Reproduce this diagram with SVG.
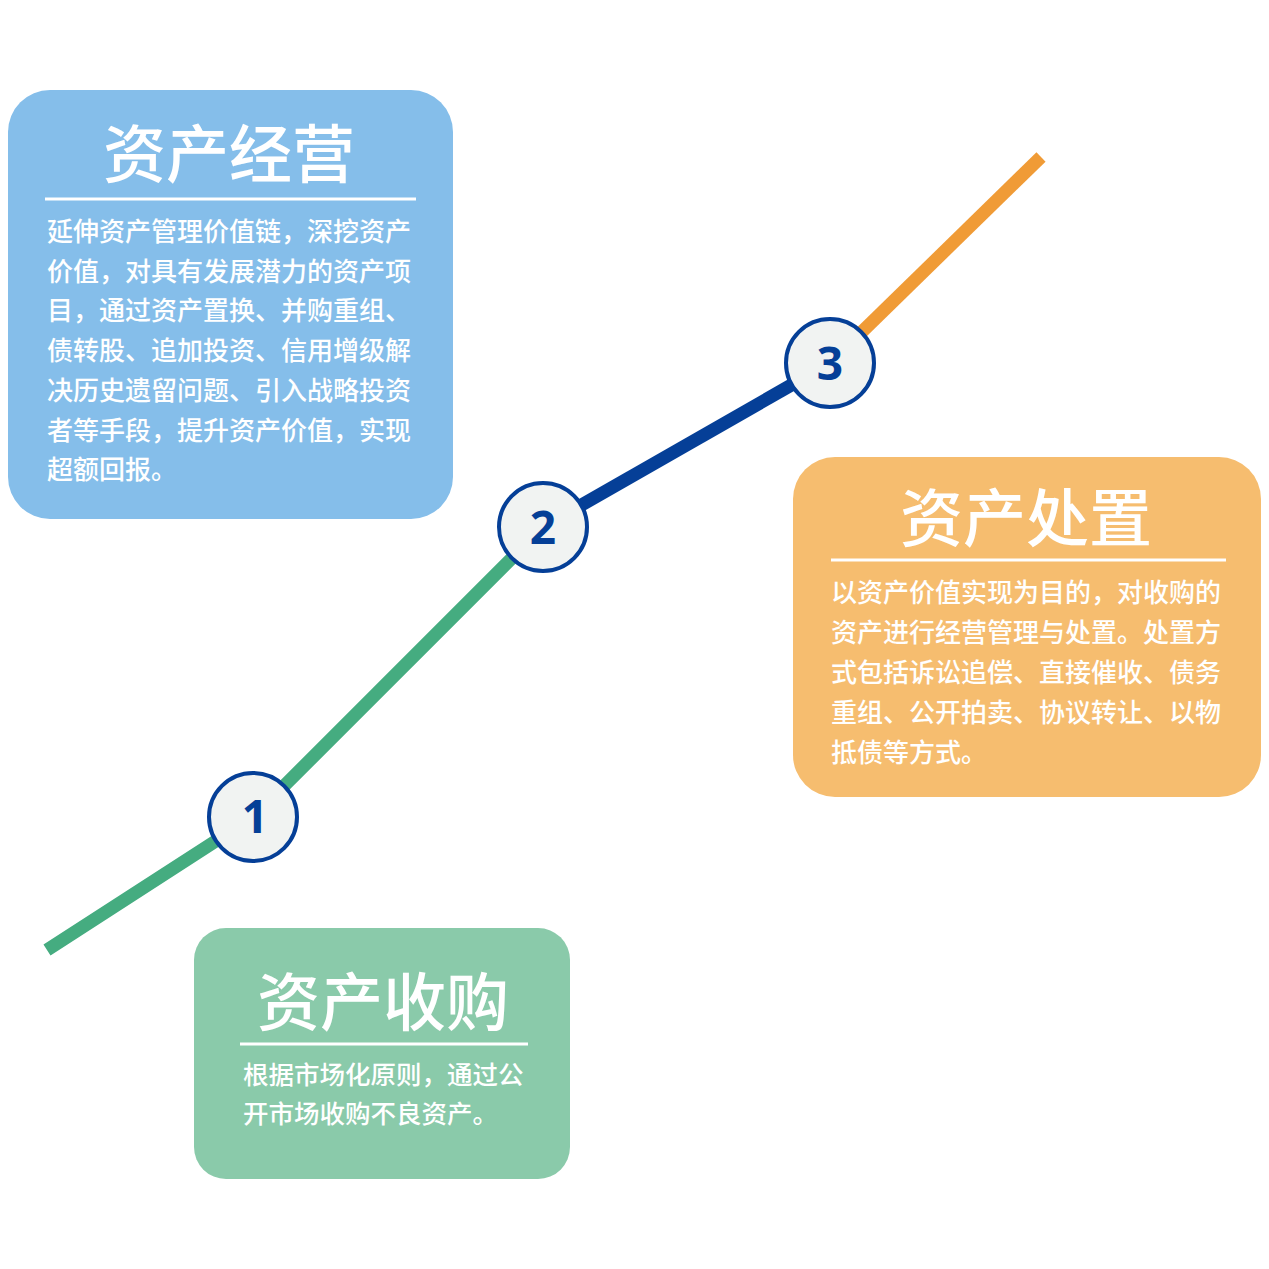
<svg xmlns="http://www.w3.org/2000/svg" width="1269" height="1269" viewBox="0 0 1269 1269">
<style>
.title{font-family:"Noto Sans CJK SC","Noto Sans",sans-serif;font-size:63px;fill:#fff;text-anchor:middle;font-weight:500}
.body{font-family:"Noto Sans CJK SC","Noto Sans",sans-serif;font-size:26px;fill:#fff;font-weight:500}
.rule{stroke:#fff;stroke-width:3}
.seg{fill:none;stroke-width:13;stroke-linecap:butt}
.dot{fill:#F1F3F2;stroke:#053F97;stroke-width:4}
.num{font-family:"Open Sans","Liberation Sans",sans-serif;font-weight:700;font-size:46px;fill:#053F97;text-anchor:middle}
</style>
<rect width="1269" height="1269" fill="#fff"/>
<g id="connectors">
<polyline class="seg" stroke="#45AC80" points="47,950 253,817 543,527"/>
<line class="seg" stroke="#053F97" x1="543" y1="527" x2="830" y2="363"/>
<line class="seg" stroke="#F09B36" x1="830" y1="363" x2="1041" y2="157"/>
</g>
<g id="box-operation">
<rect x="8" y="90" width="445" height="429" rx="42" fill="#85BEEA"/>
<text class="title" x="229" y="177">资产经营</text>
<line class="rule" x1="45" y1="199" x2="416" y2="199"/>
<text class="body">
<tspan x="47" y="241">延伸资产管理价值链，深挖资产</tspan>
<tspan x="47" y="281">价值，对具有发展潜力的资产项</tspan>
<tspan x="47" y="320">目，通过资产置换、并购重组、</tspan>
<tspan x="47" y="360">债转股、追加投资、信用增级解</tspan>
<tspan x="47" y="400">决历史遗留问题、引入战略投资</tspan>
<tspan x="47" y="440">者等手段，提升资产价值，实现</tspan>
<tspan x="47" y="479">超额回报。</tspan>
</text>
</g>
<g id="box-disposal">
<rect x="793" y="457" width="468" height="340" rx="42" fill="#F6BD6F"/>
<text class="title" x="1026" y="541">资产处置</text>
<line class="rule" x1="831" y1="560" x2="1226" y2="560"/>
<text class="body">
<tspan x="831" y="602">以资产价值实现为目的，对收购的</tspan>
<tspan x="831" y="642">资产进行经营管理与处置。处置方</tspan>
<tspan x="831" y="682">式包括诉讼追偿、直接催收、债务</tspan>
<tspan x="831" y="722">重组、公开拍卖、协议转让、以物</tspan>
<tspan x="831" y="762">抵债等方式。</tspan>
</text>
</g>
<g id="box-acquisition">
<rect x="194" y="928" width="376" height="251" rx="32" fill="#8ACAAA"/>
<text class="title" x="383" y="1025">资产收购</text>
<line class="rule" x1="240" y1="1044" x2="528" y2="1044"/>
<text class="body" style="font-size:25.5px">
<tspan x="243" y="1084">根据市场化原则，通过公</tspan>
<tspan x="243" y="1123">开市场收购不良资产。</tspan>
</text>
</g>
<g id="step-1">
<circle class="dot" cx="253" cy="817" r="44"/>
<text class="num" x="255" y="833">1</text>
</g>
<g id="step-2">
<circle class="dot" cx="543" cy="527" r="44"/>
<text class="num" x="543" y="544">2</text>
</g>
<g id="step-3">
<circle class="dot" cx="830" cy="363" r="44"/>
<text class="num" x="830" y="380">3</text>
</g>
</svg>
